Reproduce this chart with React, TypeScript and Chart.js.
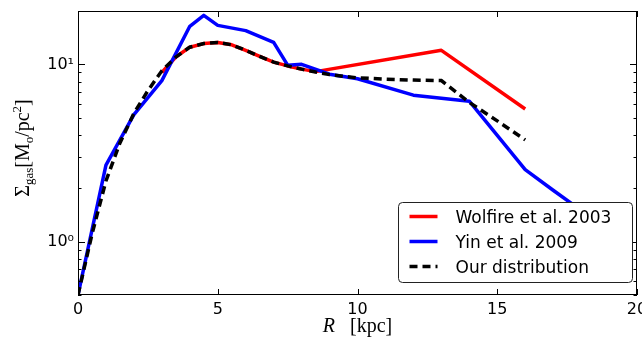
import React, { useEffect, useRef } from "react";
import { Chart, registerables } from "chart.js";
Chart.register(...registerables);

// ---- data ----
const wolfireR = [3, 3.5, 4, 4.5, 5, 5.5, 6, 6.5, 7, 7.5, 8, 8.5, 13, 16];
const wolfireSigma = [9.0, 11.0, 12.5, 13.1, 13.3, 12.9, 12.0, 11.1, 10.3, 9.8, 9.4, 9.1, 12.0, 5.6];

const yinR = [0, 1, 2, 3, 4, 4.5, 5, 6, 7, 7.5, 8, 9, 10, 12, 14, 16, 17, 18, 19];
const yinSigma = [0.5, 2.7, 5.2, 8.1, 16.4, 18.9, 16.6, 15.5, 13.3, 9.9, 10.0, 8.8, 8.3, 6.7, 6.2, 2.55, 1.95, 1.5, 1.15];

const oursR = [0, 0.5, 1, 1.5, 2, 2.5, 3, 3.5, 4, 4.5, 5, 5.5, 6, 6.5, 7, 7.5, 8, 8.5, 9, 9.5, 10, 11, 12, 13, 14, 15, 16];
const oursSigma = [0.5, 1.1, 2.2, 3.6, 5.3, 7.1, 9.2, 11.0, 12.5, 13.1, 13.3, 12.9, 12.0, 11.1, 10.3, 9.8, 9.4, 9.05, 8.75, 8.55, 8.4, 8.25, 8.15, 8.1, 6.1, 4.8, 3.75];

const seriesLabels = ["Wolfire et al. 2003", "Yin et al. 2009", "Our distribution"];
const xTickValues = [0, 5, 10, 15, 20];
const yMajorTicks = [1, 10];
const yTickLabels = ["10⁰", "10¹"];

const zip = (xs: number[], ys: number[]) => xs.map((x, i) => ({ x, y: ys[i] }));

const SANS = "'DejaVu Sans', sans-serif";
const SERIF = "'Liberation Serif', serif";

function drawRich(ctx: CanvasRenderingContext2D, parts: { t: string; size: number; dy: number; italic?: boolean }[], cx: number, baseY: number) {
  const widths = parts.map((p) => {
    ctx.font = `${p.italic ? "italic " : ""}${p.size}px ${SERIF}`;
    return ctx.measureText(p.t).width;
  });
  const total = widths.reduce((a, b) => a + b, 0);
  let x = cx - total / 2;
  ctx.textAlign = "left";
  ctx.textBaseline = "alphabetic";
  parts.forEach((p, i) => {
    ctx.font = `${p.italic ? "italic " : ""}${p.size}px ${SERIF}`;
    ctx.fillText(p.t, x, baseY + p.dy);
    x += widths[i];
  });
}

const decor = {
  id: "decor",
  afterDraw(chart: any) {
    const { ctx, chartArea: a, scales } = chart;
    const xs = scales.x;
    const ys = scales.y;
    ctx.save();
    ctx.strokeStyle = "#000";
    ctx.fillStyle = "#000";
    ctx.lineWidth = 1;
    const line = (x1: number, y1: number, x2: number, y2: number) => {
      ctx.beginPath();
      ctx.moveTo(x1, y1);
      ctx.lineTo(x2, y2);
      ctx.stroke();
    };
    // frame
    ctx.strokeRect(a.left + 0.5, a.top + 0.5, a.right - a.left - 1, a.bottom - a.top - 1);
    // x ticks (inward, top and bottom)
    for (const v of xTickValues) {
      const px = Math.round(xs.getPixelForValue(v)) + 0.5;
      line(px, a.bottom, px, a.bottom - 6);
      line(px, a.top, px, a.top + 6);
    }
    // y ticks (log, major + minor, left and right)
    for (const d of [0.1, 1, 10]) {
      for (let m = 1; m <= 9; m++) {
        const v = d * m;
        if (v < ys.min - 1e-9 || v > ys.max + 1e-9) continue;
        const len = m === 1 ? 7 : 3.5;
        const py = Math.round(ys.getPixelForValue(v)) + 0.5;
        line(a.left, py, a.left + len, py);
        line(a.right, py, a.right - len, py);
      }
    }
    // legend
    const lw = 234, lh = 80;
    const lx = a.right - 4.5 - lw;
    const ly = a.bottom - 12.5 - lh;
    ctx.beginPath();
    ctx.roundRect(lx, ly, lw, lh, 4);
    ctx.fillStyle = "#fff";
    ctx.fill();
    ctx.strokeStyle = "#222";
    ctx.lineWidth = 1;
    ctx.stroke();
    chart.data.datasets.forEach((ds: any, i: number) => {
      const rowY = ly + 14 + i * 25;
      ctx.strokeStyle = ds.borderColor;
      ctx.lineWidth = 3.5;
      ctx.setLineDash(ds.borderDash || []);
      line(lx + 11, rowY, lx + 39, rowY);
      ctx.setLineDash([]);
      ctx.fillStyle = "#000";
      ctx.font = `17px ${SANS}`;
      ctx.textAlign = "left";
      ctx.textBaseline = "alphabetic";
      ctx.fillText(ds.label, lx + 57, rowY + 6);
    });
    // x axis title
    ctx.fillStyle = "#000";
    drawRich(ctx, [
      { t: "R", size: 20, dy: 0, italic: true },
      { t: "   [kpc]", size: 20, dy: 0 },
    ], (a.left + a.right) / 2, a.bottom + 37);
    // y axis title
    ctx.save();
    ctx.translate(a.left - 49, (a.top + a.bottom) / 2 - 5);
    ctx.rotate(-Math.PI / 2);
    drawRich(ctx, [
      { t: "Σ", size: 20, dy: 0 },
      { t: "gas", size: 13, dy: 4 },
      { t: "[M", size: 20, dy: 0 },
      { t: "o", size: 13, dy: 4 },
      { t: "/pc", size: 20, dy: 0 },
      { t: "2", size: 13, dy: -8 },
      { t: "]", size: 20, dy: 0 },
    ], 0, 0);
    ctx.restore();
    ctx.restore();
  },
};

export default function App() {
  const ref = useRef<HTMLCanvasElement | null>(null);
  useEffect(() => {
    if (!ref.current) return;
    const chart = new Chart(ref.current, {
      type: "line",
      data: {
        datasets: [
          { label: seriesLabels[0], data: zip(wolfireR, wolfireSigma), borderColor: "#ff0000", borderWidth: 3.5, pointRadius: 0, tension: 0, order: 3, borderJoinStyle: "round" },
          { label: seriesLabels[1], data: zip(yinR, yinSigma), borderColor: "#0000ff", borderWidth: 3.5, pointRadius: 0, tension: 0, order: 2, borderJoinStyle: "round" },
          { label: seriesLabels[2], data: zip(oursR, oursSigma), borderColor: "#000000", borderWidth: 3.5, borderDash: [8, 5], pointRadius: 0, tension: 0, order: 1 },
        ] as any,
      },
      options: {
        animation: false,
        responsive: true,
        maintainAspectRatio: false,
        layout: { padding: { top: 11, right: 5, left: 0, bottom: 0 } },
        plugins: { legend: { display: false }, tooltip: { enabled: false } },
        scales: {
          x: {
            type: "linear",
            min: 0,
            max: 20,
            grid: { display: false, drawTicks: false },
            border: { display: false },
            ticks: { stepSize: 5, color: "#000", font: { family: SANS, size: 16 }, padding: 5, maxRotation: 0 },
            afterBuildTicks: (s: any) => { s.ticks = xTickValues.map((v) => ({ value: v })); },
            afterFit: (s: any) => { s.height = 44; s.paddingLeft = 0; s.paddingRight = 0; },
          },
          y: {
            type: "logarithmic",
            min: 0.5,
            max: 20,
            grid: { display: false, drawTicks: false },
            border: { display: false },
            ticks: {
              color: "#000",
              font: { family: SANS, size: 16 },
              padding: 4,
              callback: (v: any) => {
                const i = yMajorTicks.indexOf(Number(v));
                return i >= 0 ? yTickLabels[i] : "";
              },
            },
            afterBuildTicks: (s: any) => { s.ticks = yMajorTicks.map((v) => ({ value: v })); },
            afterFit: (s: any) => { s.width = 78; s.paddingTop = 0; s.paddingBottom = 0; },
          },
        },
      } as any,
      plugins: [decor],
    });
    return () => chart.destroy();
  }, []);
  return (
    <div style={{ position: "fixed", left: 0, top: 0, width: 642, height: 339, background: "#fff" }}>
      <canvas ref={ref} />
    </div>
  );
}
